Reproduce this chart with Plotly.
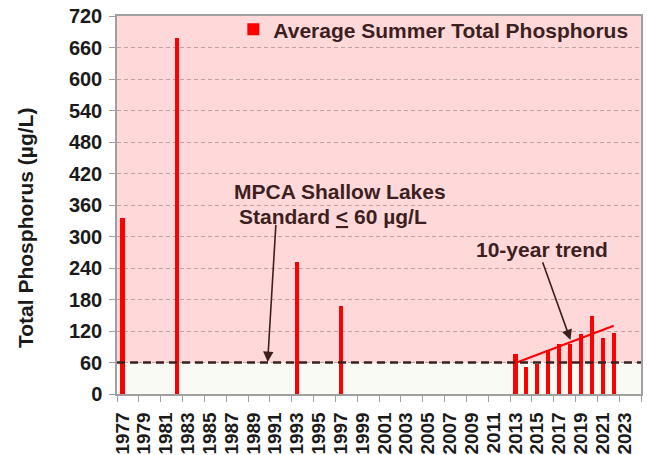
import numpy as np
import plotly.graph_objects as go

# ---- data ----
years = [1977, 1982, 1993, 1997, 2013, 2014, 2015, 2016, 2017, 2018, 2019, 2020, 2021, 2022]
tp_values = [335, 678, 252, 167, 76, 51, 57, 84, 95, 96, 114, 149, 107, 116]
tick_years = list(range(1977, 2024, 2))
tick_labels = [str(y) for y in tick_years]
y_ticks = list(range(0, 721, 60))
standard = 60
trend_years = [2013, 2014, 2015, 2016, 2017, 2018, 2019, 2020, 2021, 2022]

# 10-year trend (least squares on the last ten years)
trend_vals = [tp_values[years.index(y)] for y in trend_years]
slope, intercept = np.polyfit(trend_years, trend_vals, 1)
trend_x = [trend_years[0], trend_years[-1]]
trend_y = [slope * x + intercept for x in trend_x]

FONT = "Liberation Sans, Arial, sans-serif"
TXT = "#3D1F1F"
PINK = "#FFD9D9"
LOW = "#FAFAF5"

fig = go.Figure()
fig.add_trace(go.Bar(
    x=years, y=tp_values, width=0.38,
    marker=dict(color="#FF0000", line=dict(width=0)),
    name="Average Summer Total Phosphorus",
))
fig.add_trace(go.Scatter(
    x=trend_x, y=trend_y, mode="lines",
    line=dict(color="#FF0000", width=2), showlegend=False, hoverinfo="skip",
))

fig.update_layout(
    width=647, height=455,
    margin=dict(l=117, r=6, t=16, b=61, autoexpand=False),
    paper_bgcolor="white",
    plot_bgcolor=PINK,
    font=dict(family=FONT, size=20, color="#1A1A1A", weight="bold"),
    showlegend=True,
    legend=dict(
        x=0.222, y=1.018, xanchor="left", yanchor="top",
        bgcolor="rgba(0,0,0,0)", borderwidth=0,
        font=dict(family=FONT, size=21, color=TXT, weight="bold"),
        itemwidth=30,
    ),
    bargap=0,
)

fig.update_xaxes(
    range=[1976.5, 2024.5], automargin=False,
    tickmode="array", tickvals=tick_years, ticktext=tick_labels,
    tickangle=-90,
    ticks="outside", ticklen=9, tickcolor="rgba(0,0,0,0)",
    tickfont=dict(family=FONT, size=19, color="#1A1A1A", weight="bold"),
    minor=dict(tickmode="array",
               tickvals=[1976.5 + 2 * i for i in range(25)],
               ticks="outside", ticklen=6, tickcolor="#A0A0A0", tickwidth=1.2,
               showgrid=False),
    showgrid=False, zeroline=False,
    showline=True, linecolor="#A0A0A0", linewidth=1.5, mirror=True,
)
fig.update_yaxes(
    range=[0, 720], automargin=False,
    tickmode="array", tickvals=y_ticks,
    ticks="outside", ticklen=6, tickcolor="#A0A0A0", tickwidth=1.2,
    ticklabelstandoff=3, ticklabeloverflow="allow",
    tickfont=dict(family=FONT, size=20, color="#1A1A1A", weight="bold"),
    showgrid=True, gridcolor="#BFA3A3", gridwidth=1, griddash="4px,3px",
    zeroline=False,
    showline=True, linecolor="#A0A0A0", linewidth=1.5, mirror=True,
)

# low band below the standard
fig.add_shape(type="rect", xref="paper", yref="y", x0=0, x1=1, y0=0, y1=standard,
              fillcolor=LOW, line=dict(width=0), layer="below")
# standard line
fig.add_shape(type="line", xref="paper", yref="y", x0=0, x1=1, y0=standard, y1=standard,
              line=dict(color="#3A2020", width=2.5, dash="8px,5px"), layer="above")

# y-axis title
fig.add_annotation(
    xref="paper", yref="paper", x=-0.175, y=0.44,
    text="Total Phosphorus (µg/L)", textangle=-90, showarrow=False,
    font=dict(family=FONT, size=21, color="#1A1A1A", weight="bold"),
    xanchor="center", yanchor="middle",
)

# MPCA standard annotation
fig.add_annotation(
    x=1996.9, y=386, xref="x", yref="y",
    text="MPCA Shallow Lakes", showarrow=False,
    font=dict(family=FONT, size=21, color=TXT, weight="bold"),
)
fig.add_annotation(
    x=1996.3, y=339, xref="x", yref="y",
    text="Standard <u><</u> 60 µg/L", showarrow=False,
    font=dict(family=FONT, size=21, color=TXT, weight="bold"),
)
fig.add_annotation(
    x=1990.3, y=61, ax=1991.06, ay=325,
    xref="x", yref="y", axref="x", ayref="y",
    text="", showarrow=True, arrowhead=2, arrowsize=1.3, arrowwidth=1.6,
    arrowcolor=TXT,
)

# trend annotation
fig.add_annotation(
    x=2015.4, y=276, xref="x", yref="y",
    text="10-year trend", showarrow=False,
    font=dict(family=FONT, size=21, color=TXT, weight="bold"),
)
fig.add_annotation(
    x=2018.04, y=103, ax=2015.44, ay=254,
    xref="x", yref="y", axref="x", ayref="y",
    text="", showarrow=True, arrowhead=2, arrowsize=1.3, arrowwidth=1.6,
    arrowcolor=TXT,
)

# remove the default page margin so the figure sits at the window's corner
fig.write_html("out.html", config={"displayModeBar": False},
               post_script="document.body.style.margin='0px';")
